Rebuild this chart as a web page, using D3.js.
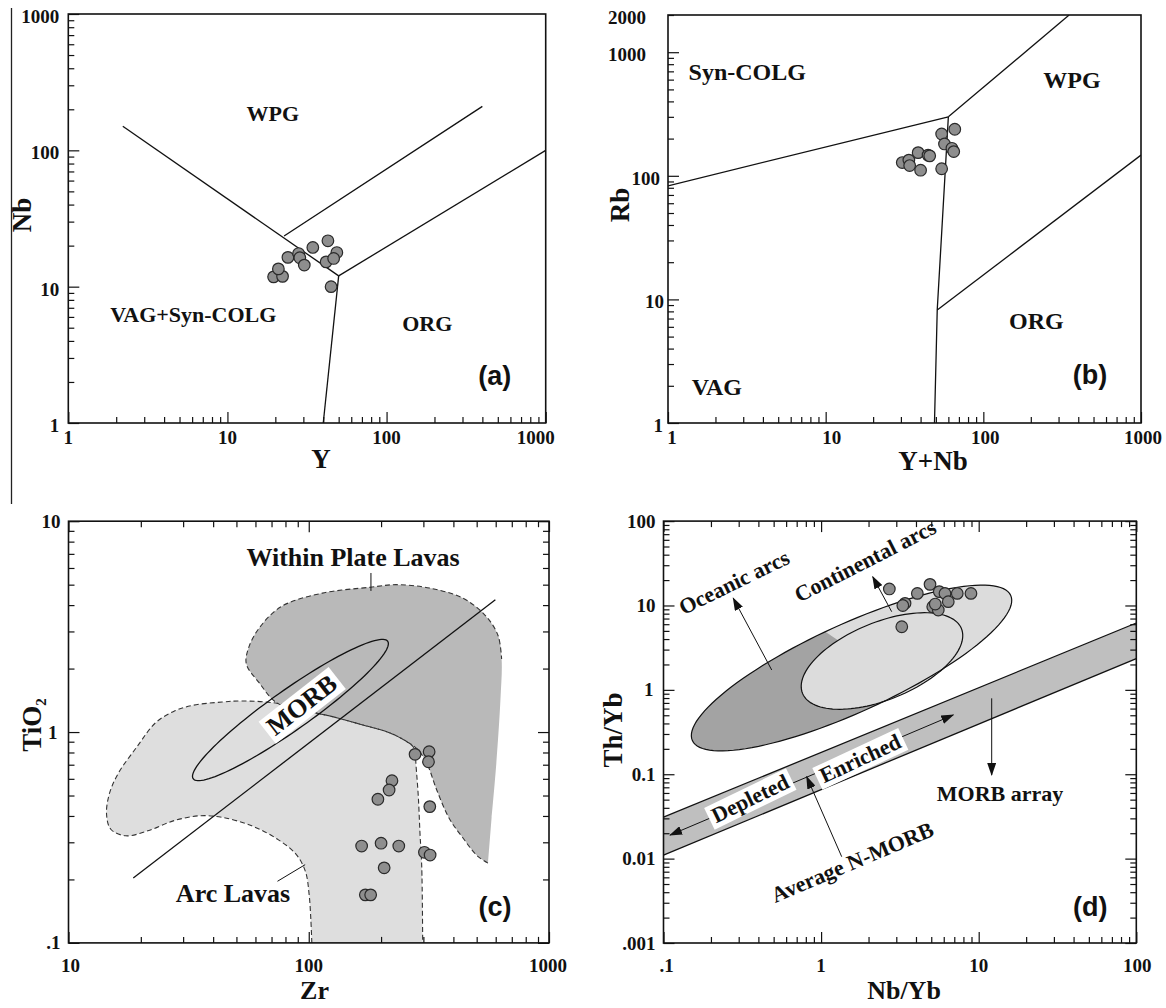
<!DOCTYPE html>
<html>
<head>
<meta charset="utf-8">
<script src="https://cdn.jsdelivr.net/npm/d3@7"></script>
<style>
  body { margin: 0; background: #fff; }
  svg { display: block; }
  text { font-family: "Liberation Serif", "Times New Roman", serif; font-weight: bold; fill: #111; }
  .letter { font-family: "Liberation Sans", Arial, sans-serif; }
</style>
</head>
<body>
<svg id="fig" width="1166" height="1008"></svg>
<script>
// ---- data ----
// (a) Nb vs Y
const aY  = [19.5, 22.2, 20.9, 24.0, 28.0, 28.5, 30.4, 34.4, 42.8, 48.7, 41.7, 46.5, 44.8];
const aNb = [11.8, 11.9, 13.5, 16.4, 17.5, 16.3, 14.4, 19.4, 21.7, 17.8, 15.2, 16.1, 10.0];
const aBounds = [
  [[2.2, 150], [50, 12]],
  [[22.7, 23.5], [400, 210]],
  [[50, 12], [1000, 100]],
  [[50, 12], [40, 1]]
];
const aNames = [['WPG', 19.3, 188], ['VAG+Syn-COLG', 6.1, 6.3], ['ORG', 180, 5.4]];

// (b) Rb vs Y+Nb
const bYNb = [30.6, 33.7, 34.1, 38.6, 44.6, 45.7, 40.0, 54.4, 65.9, 56.7, 63.2, 64.9, 54.4];
const bRb  = [128, 134, 121, 154, 147, 145, 111, 218, 238, 181, 167, 157, 114];
const bBounds = [
  [[1, 83], [60, 300]],
  [[60, 300], [350, 2000]],
  [[60, 300], [51, 8.2], [49, 1]],
  [[51, 8.2], [1000, 147]]
];
const bNames = [['Syn-COLG', 3.18, 695], ['WPG', 365, 596], ['ORG', 217, 6.7], ['VAG', 2.04, 1.97]];

// (c) TiO2 vs Zr
const cZr = [277, 317, 315, 222, 216, 194, 319, 166, 200, 237, 303, 320, 206, 172, 181];
const cTi = [0.784, 0.807, 0.723, 0.588, 0.531, 0.480, 0.443, 0.288, 0.297, 0.288, 0.269, 0.261, 0.227, 0.169, 0.169];
const cArcField = [
  [103, 0.1], [102, 0.13], [100.4, 0.169], [96.9, 0.218], [88.6, 0.263], [74.2, 0.31], [57.9, 0.359],
  [43.6, 0.394], [35.2, 0.401], [27.5, 0.38], [21.4, 0.34], [17.3, 0.322], [15.0, 0.346], [14.4, 0.409],
  [14.8, 0.51], [16.1, 0.636], [19.3, 0.853], [23, 1.105], [27.5, 1.256], [32.8, 1.338], [43.6, 1.388],
  [52.1, 1.404], [74.2, 1.368], [106, 1.234], [123, 1.19], [168, 1.08], [218, 0.99], [256, 0.9],
  [272, 0.852], [277, 0.804], [279.5, 0.698], [285.8, 0.494], [290.4, 0.331], [295.3, 0.23], [298, 0.1]
];
const cWithinPlate = [
  [557, 0.239], [504, 0.258], [437, 0.316], [384, 0.39], [341, 0.531], [310, 0.711], [283, 0.83],
  [256, 0.9], [218, 0.99], [168, 1.08], [123, 1.19], [106, 1.234], [74.2, 1.368],
  [62, 1.72], [55, 2.10], [56, 2.48], [62, 3.10], [77, 3.94], [114, 4.56], [180, 4.86], [231, 5.0],
  [318, 4.82], [437, 4.32], [541, 3.59], [613, 2.88], [635, 2.22],
  [628, 1.43], [602, 0.684], [577, 0.394]
];
const cMorbEllipse = [[83.9, 1.272], [213.1, 2.694], [75.1, 1.52]]; // centre, major end, minor end
const cDivide = [[18.6, 0.203], [598, 4.24]];
const cLeaders = [[[181.5, 5.68], [181.5, 4.67]], [[74.1, 0.196], [96.6, 0.235]]];

// (d) Th/Yb vs Nb/Yb
const dNbYb = [2.71, 4.91, 4.08, 3.41, 3.30, 5.62, 6.11, 7.31, 8.93, 6.41, 5.11, 5.54, 3.25, 5.30];
const dThYb = [15.7, 17.8, 13.9, 10.6, 10.0, 14.6, 13.9, 13.9, 13.9, 11.1, 9.67, 8.84, 5.60, 10.4];
const dOuterEllipse = [[1.56, 1.816], [15.96, 13.17], [1.195, 5.41]];
const dInnerEllipse = [[2.434, 2.198], [7.77, 5.32], [1.967, 5.84]];
const dLightCut = [[1.318, 3.72], [3.49, 1.09]];
const dBandTop = [[0.1, 0.031], [100, 6.2]];
const dBandBottom = [[0.1, 0.011], [100, 2.35]];
const dArrows = [
  [[0.486, 1.72], [0.277, 12.2]],
  [[2.805, 8.44], [2.126, 21.9]],
  [[1.351, 0.01054], [0.81, 0.0935]],
  [[12.09, 0.794], [12.09, 0.098]]
];
const dTrend = [[0.11, 0.019], [6.9, 0.5035]];

// ---- layout ----
const svg = d3.select('#fig');
const panels = {
  a: { x0: 68.3, x1: 545.7, y0: 14, y1: 423, xd: [1, 1000], yd: [1, 1000] },
  b: { x0: 668, x1: 1141, y0: 15, y1: 423, xd: [1, 1000], yd: [1, 2000] },
  c: { x0: 68.5, x1: 549, y0: 521.2, y1: 942.9, xd: [10, 1000], yd: [0.1, 10] },
  d: { x0: 663.5, x1: 1136.3, y0: 521.1, y1: 943, xd: [0.1, 100], yd: [0.001, 100] }
};

const defs = svg.append('defs');
defs.append('marker')
  .attr('id', 'arr').attr('viewBox', '0 0 13 9').attr('refX', 12).attr('refY', 4.5)
  .attr('markerWidth', 13).attr('markerHeight', 9).attr('markerUnits', 'userSpaceOnUse')
  .attr('orient', 'auto-start-reverse')
  .append('path').attr('d', 'M0,0L13,4.5L0,9Z').attr('fill', '#111');

Object.entries(panels).forEach(([k, p]) => {
  p.x = d3.scaleLog().domain(p.xd).range([p.x0, p.x1]);
  p.y = d3.scaleLog().domain(p.yd).range([p.y1, p.y0]);
  p.g = svg.append('g');
  defs.append('clipPath').attr('id', 'clip-' + k)
    .append('rect').attr('x', p.x0).attr('y', p.y0).attr('width', p.x1 - p.x0).attr('height', p.y1 - p.y0);
  p.plot = p.g.append('g').attr('clip-path', `url(#clip-${k})`);
  p.xy = (d) => [p.x(d[0]), p.y(d[1])];
});

function logTicks(lo, hi) {
  let out = [];
  for (let e = Math.floor(Math.log10(lo)); e <= Math.ceil(Math.log10(hi)); e++) {
    for (let m = 1; m <= 9; m++) {
      let v = +(m * Math.pow(10, e)).toPrecision(6);
      if (v >= lo * 0.999 && v <= hi * 1.001) out.push(v);
    }
  }
  return out;
}
const isDecade = (v) => Math.abs(Math.log10(v) - Math.round(Math.log10(v))) < 1e-6;

function ticks(p, sides) {
  const make = {
    left: () => d3.axisLeft(p.y), right: () => d3.axisRight(p.y),
    bottom: () => d3.axisBottom(p.x), top: () => d3.axisTop(p.x)
  };
  const pos = { left: `translate(${p.x0},0)`, right: `translate(${p.x1},0)`, bottom: `translate(0,${p.y1})`, top: `translate(0,${p.y0})` };
  sides.forEach((s) => {
    const dom = (s === 'left' || s === 'right') ? p.yd : p.xd;
    const all = logTicks(dom[0], dom[1]);
    [[all.filter((v) => !isDecade(v)), 6], [all.filter(isDecade), 11]].forEach(([vals, len]) => {
      const ax = p.g.append('g').attr('transform', pos[s])
        .call(make[s]().tickValues(vals).tickSize(-len).tickFormat(''));
      ax.select('.domain').remove();
      ax.selectAll('line').attr('stroke', '#111').attr('stroke-width', 1.2);
    });
  });
  p.g.append('rect').attr('x', p.x0).attr('y', p.y0).attr('width', p.x1 - p.x0).attr('height', p.y1 - p.y0)
    .attr('fill', 'none').attr('stroke', '#111').attr('stroke-width', 1.6);
}

function label(g, x, y, s, o = {}) {
  const t = g.append('g').attr('transform', `translate(${x},${y}) rotate(${o.rot || 0})`);
  const el = t.append('text')
    .attr('text-anchor', o.anchor || 'middle')
    .attr('dy', o.dy == null ? '0.35em' : o.dy)
    .style('font-size', (o.size || 22) + 'px')
    .text(s);
  if (o.cls) el.attr('class', o.cls);
  if (o.box) {
    const bb = el.node().getBBox();
    t.insert('rect', 'text').attr('x', bb.x - 4).attr('y', bb.y + 1).attr('width', bb.width + 8).attr('height', bb.height - 1)
      .attr('fill', '#fff');
  }
  return el;
}

function tickLabels(p, xv, xs, yv, ys, opt) {
  xv.forEach((v, i) => label(p.g, p.x(v) + (opt.xdx[i] || 0), p.y1 + opt.xb, xs[i], { size: 19, dy: 0 }));
  yv.forEach((v, i) => label(p.g, p.x0 + (opt.ydx[i] != null ? opt.ydx[i] : -9), p.y(v) + opt.yb, ys[i], { size: 19, dy: 0, anchor: 'end' }));
}

function dots(p, xs, ys) {
  p.g.append('g').selectAll('circle').data(xs.map((v, i) => [v, ys[i]])).join('circle')
    .attr('cx', (d) => p.x(d[0])).attr('cy', (d) => p.y(d[1])).attr('r', 5.8)
    .attr('fill', '#8e8e8e').attr('stroke', '#2a2a2a').attr('stroke-width', 1.2);
}

function polyline(p, pts, g) {
  return (g || p.plot).append('path').attr('d', d3.line()(pts.map(p.xy)))
    .attr('fill', 'none').attr('stroke', '#111').attr('stroke-width', 1.3);
}

function ellipsePts(p, e) {
  const c = p.xy(e[0]), m = p.xy(e[1]), n = p.xy(e[2]);
  const A = [m[0] - c[0], m[1] - c[1]], B = [n[0] - c[0], n[1] - c[1]];
  return d3.range(0, 121).map((i) => {
    const t = i / 120 * 2 * Math.PI;
    return [c[0] + A[0] * Math.cos(t) + B[0] * Math.sin(t), c[1] + A[1] * Math.cos(t) + B[1] * Math.sin(t)];
  });
}

// left edge rule of the figure
svg.append('line').attr('x1', 11.5).attr('x2', 11.5).attr('y1', 8).attr('y2', 504)
  .attr('stroke', '#222').attr('stroke-width', 1.3);

// ---- (a) ----
{
  const p = panels.a;
  aBounds.forEach((b) => polyline(p, b));
  aNames.forEach(([s, x, y]) => label(p.g, p.x(x), p.y(y), s, { size: 22 }));
  ticks(p, ['left', 'bottom']);
  tickLabels(p, [1, 10, 100, 1000], ['1', '10', '100', '1000'], [1, 10, 100, 1000], ['1', '10', '100', '1000'],
    { xb: 21, yb: 9, xdx: [0, 0, 0, -10], ydx: [] });
  label(svg, 321, 468, 'Y', { size: 27, dy: 0 });
  label(svg, 21.4, 215, 'Nb', { size: 27, rot: -90 });
  label(p.g, p.x1 - 51, p.y1 - 47, '(a)', { size: 27, cls: 'letter' });
  dots(p, aY, aNb);
}

// ---- (b) ----
{
  const p = panels.b;
  bBounds.forEach((b) => polyline(p, b));
  bNames.forEach(([s, x, y]) => label(p.g, p.x(x), p.y(y), s, { size: 24 }));
  ticks(p, ['left', 'bottom']);
  tickLabels(p, [1, 10, 100, 1000], ['1', '10', '100', '1000'], [1, 10, 100, 1000, 2000], ['1', '10', '100', '1000', '2000'],
    { xb: 21, yb: 9, xdx: [4, 6, 2, 2], ydx: [-5, -4, -8, -22, -22] });
  label(svg, 933, 470, 'Y+Nb', { size: 27, dy: 0 });
  label(svg, 619.4, 205, 'Rb', { size: 27, rot: -90 });
  label(p.g, p.x1 - 51, p.y1 - 48, '(b)', { size: 27, cls: 'letter' });
  dots(p, bYNb, bRb);
}

// ---- (c) ----
{
  const p = panels.c;
  const curve = d3.line().curve(d3.curveCatmullRom.alpha(0.5));
  p.plot.append('path').attr('d', curve(cArcField.map(p.xy)) + 'Z').attr('fill', '#dedede');
  p.plot.append('path').attr('d', curve(cWithinPlate.map(p.xy)) + 'Z').attr('fill', '#b9b9b9');
  [cArcField, cWithinPlate.slice(0, 26)].forEach((f) => {
    p.plot.append('path').attr('d', curve(f.map(p.xy))).attr('fill', 'none')
      .attr('stroke', '#333').attr('stroke-width', 1.1).attr('stroke-dasharray', '5,3');
  });
  p.plot.append('path').attr('d', d3.line()(ellipsePts(p, cMorbEllipse)) + 'Z')
    .attr('fill', 'none').attr('stroke', '#111').attr('stroke-width', 1.3);
  polyline(p, cDivide);
  cLeaders.forEach((l) => polyline(p, l).attr('stroke-width', 1));
  label(p.g, p.x(93.3), p.y(1.352), 'MORB', { size: 26, rot: -38, box: true });
  label(p.g, p.x(152.9), p.y(6.76), 'Within Plate Lavas', { size: 26 });
  label(p.g, p.x(48.4), p.y(0.1724), 'Arc Lavas', { size: 26 });
  ticks(p, ['left', 'right', 'bottom', 'top']);
  tickLabels(p, [10, 100, 1000], ['10', '100', '1000'], [0.1, 1, 10], ['.1', '1', '10'],
    { xb: 29, yb: 6.5, xdx: [2, 0, -1], ydx: [-8, -11, -8] });
  label(svg, 314.5, 999, 'Zr', { size: 26, dy: 0 });
  const t = label(svg, 32, 725, 'TiO', { size: 27, rot: -90 });
  t.append('tspan').attr('dy', '0.3em').style('font-size', '15px').text('2');
  label(p.g, p.x1 - 54, p.y1 - 36, '(c)', { size: 27, cls: 'letter' });
  dots(p, cZr, cTi);
}

// ---- (d) ----
{
  const p = panels.d;
  const outer = d3.line()(ellipsePts(p, dOuterEllipse)) + 'Z';
  const inner = d3.line()(ellipsePts(p, dInnerEllipse)) + 'Z';
  p.plot.append('path').attr('d', outer).attr('fill', '#a3a3a3');
  // right part of the long field is light
  const c1 = p.xy(dLightCut[0]), c2 = p.xy(dLightCut[1]);
  const dx = c2[0] - c1[0], dy = c2[1] - c1[1];
  const len = Math.hypot(dx, dy), nx = dy / len * 2000, ny = -dx / len * 2000;
  const q1 = [c1[0] - dx * 6, c1[1] - dy * 6], q2 = [c2[0] + dx * 6, c2[1] + dy * 6];
  defs.append('clipPath').attr('id', 'cut-d').append('path')
    .attr('d', d3.line()([q1, q2, [q2[0] + nx, q2[1] + ny], [q1[0] + nx, q1[1] + ny]]) + 'Z');
  p.plot.append('g').attr('clip-path', 'url(#cut-d)')
    .append('path').attr('d', outer).attr('fill', '#dcdcdc');
  p.plot.append('path').attr('d', inner).attr('fill', '#dcdcdc').attr('stroke', '#111').attr('stroke-width', 1.2);
  p.plot.append('path').attr('d', outer).attr('fill', 'none').attr('stroke', '#111').attr('stroke-width', 1.2);

  // MORB array
  p.plot.append('path')
    .attr('d', d3.line()(dBandTop.concat(dBandBottom.slice().reverse()).map(p.xy)) + 'Z')
    .attr('fill', '#bfbfbf');
  polyline(p, dBandTop);
  polyline(p, dBandBottom);

  polyline(p, dTrend, p.g).attr('stroke-width', 1).attr('marker-start', 'url(#arr)').attr('marker-end', 'url(#arr)');
  dArrows.forEach((a) => polyline(p, a, p.g).attr('stroke-width', 1).attr('marker-end', 'url(#arr)'));

  label(p.g, p.x(0.354), p.y(0.0519), 'Depleted', { size: 22, rot: -26, box: true });
  label(p.g, p.x(1.766), p.y(0.1545), 'Enriched', { size: 22, rot: -25, box: true });
  label(p.g, p.x(0.28), p.y(18.97), 'Oceanic arcs', { size: 22, rot: -26 });
  label(p.g, p.x(1.90), p.y(34.0), 'Continental arcs', { size: 22, rot: -27 });
  label(p.g, p.x(1.575), p.y(0.00914), 'Average N-MORB', { size: 22, rot: -23 });
  label(p.g, p.x(13.65), p.y(0.0594), 'MORB array', { size: 22 });
  ticks(p, ['left', 'right', 'bottom', 'top']);
  tickLabels(p, [0.1, 1, 10, 100], ['.1', '1', '10', '100'], [0.001, 0.01, 0.1, 1, 10, 100], ['.001', '0.01', '0.1', '1', '10', '100'],
    { xb: 29, yb: 6.5, xdx: [3, 0, 0, 1], ydx: [-8, -8, -8, -10, -8, -8] });
  label(svg, 904, 999, 'Nb/Yb', { size: 26, dy: 0 });
  label(svg, 613, 730, 'Th/Yb', { size: 27, rot: -90 });
  label(p.g, p.x1 - 46, p.y1 - 36, '(d)', { size: 27, cls: 'letter' });
  dots(p, dNbYb, dThYb);
}
</script>
</body>
</html>
